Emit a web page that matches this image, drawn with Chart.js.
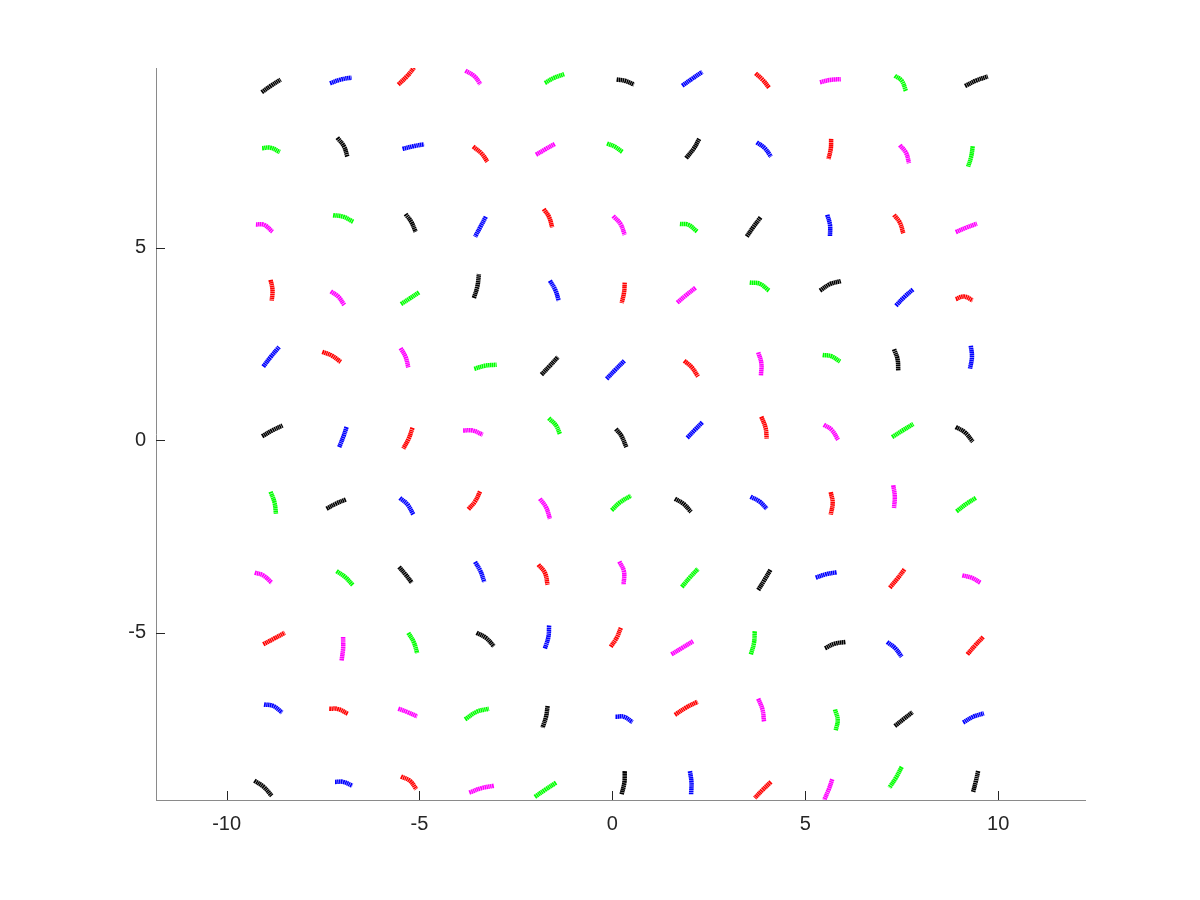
<!DOCTYPE html>
<html><head><meta charset="utf-8">
<script src="https://cdn.jsdelivr.net/npm/chart.js@4.4.0/dist/chart.umd.min.js"></script>
<style>html,body{margin:0;padding:0;background:#fff;}#wrap{width:1200px;height:900px;}</style>
</head><body><div id="wrap"><canvas id="c" width="1200" height="900"></canvas></div>
<script>
// Axis ticks and limits
const xTicks = [-10, -5, 0, 5, 10];
const yTicks = [-5, 0, 5];
const xLimits = [-11.83, 12.25];
const yLimits = [-9.34, 9.66];

// Arc samples, rows from top to bottom, 11 arcs per row (start / middle / end points)
const startX = [
 -9.09,-7.32,-5.55,-3.81,-1.75,0.11,1.81,3.71,5.38,7.32,9.14,
 -9.08,-7.13,-5.44,-3.61,-1.98,-0.14,1.91,3.74,5.67,7.45,9.34,
 -9.24,-7.24,-5.36,-3.28,-1.78,0.02,1.75,3.84,5.57,7.30,8.90,
 -8.86,-7.30,-5.48,-3.59,-1.62,0.32,1.68,3.56,5.38,7.35,8.90,
 -9.05,-7.52,-5.49,-3.58,-1.84,-0.15,1.86,3.78,5.45,7.30,9.29,
 -9.08,-6.89,-5.18,-3.87,-1.65,0.09,1.94,3.86,5.48,7.25,8.90,
 -8.86,-7.41,-5.51,-3.43,-1.88,-0.02,1.62,3.58,5.66,7.28,8.92,
 -9.27,-7.15,-5.53,-3.56,-1.92,0.18,1.80,3.78,5.27,7.19,9.07,
 -9.05,-6.98,-5.29,-3.52,-1.64,0.22,1.53,3.69,5.51,7.12,9.20,
 -9.03,-7.34,-5.55,-3.82,-1.68,0.08,1.62,3.78,5.77,7.32,9.09,
 -9.28,-7.19,-5.48,-3.71,-2.01,0.32,2.01,4.11,5.70,7.50,9.48];
const startY = [
 9.03,9.26,9.23,9.59,9.27,9.36,9.20,9.52,9.29,9.46,9.19,
 7.58,7.85,7.56,7.62,7.41,7.70,7.32,7.73,7.82,7.66,7.63,
 5.60,5.84,5.87,5.80,6.00,5.82,5.61,5.78,5.85,5.85,5.40,
 4.16,3.86,3.53,3.69,4.14,4.09,3.57,4.09,3.88,3.49,3.66,
 1.91,2.29,2.39,1.85,1.70,1.59,2.06,2.28,2.21,2.36,2.45,
 0.10,0.34,0.32,0.25,0.57,0.29,0.06,0.61,0.40,0.08,0.34,
 -1.34,-1.78,-1.50,-1.33,-1.52,-1.82,-1.52,-1.47,-1.35,-1.17,-1.85,
 -3.44,-3.40,-3.29,-3.16,-3.23,-3.15,-3.81,-3.89,-3.57,-3.83,-3.51,
 -5.30,-5.11,-5.00,-5.00,-4.81,-4.87,-5.56,-4.96,-5.40,-5.24,-5.56,
 -6.86,-6.97,-6.97,-7.25,-6.90,-7.18,-7.13,-6.71,-6.99,-7.42,-7.33,
 -8.84,-8.87,-8.73,-9.15,-9.26,-8.59,-8.59,-8.87,-8.80,-8.48,-8.59];
const midX = [
 -8.85,-7.05,-5.32,-3.58,-1.52,0.32,2.05,3.89,5.64,7.50,9.42,
 -8.86,-6.96,-5.16,-3.39,-1.74,0.06,2.11,3.94,5.66,7.61,9.30,
 -9.03,-6.98,-5.21,-3.42,-1.64,0.21,1.97,3.65,5.64,7.45,9.18,
 -8.81,-7.11,-5.25,-3.50,-1.48,0.30,1.92,3.82,5.64,7.56,9.11,
 -8.85,-7.28,-5.36,-3.31,-1.64,0.08,2.05,3.86,5.67,7.39,9.32,
 -8.82,-6.97,-5.28,-3.62,-1.46,0.23,2.14,3.97,5.68,7.52,9.14,
 -8.76,-7.17,-5.31,-3.56,-1.72,0.19,1.84,3.81,5.71,7.32,9.18,
 -9.05,-6.93,-5.36,-3.42,-1.75,0.30,2.01,3.94,5.53,7.39,9.31,
 -8.77,-6.98,-5.15,-3.28,-1.66,0.11,1.81,3.67,5.77,7.32,9.40,
 -8.79,-7.11,-5.31,-3.52,-1.72,0.30,1.91,3.89,5.84,7.56,9.35,
 -9.05,-6.98,-5.25,-3.39,-1.75,0.31,2.05,3.89,5.61,7.35,9.42];
const midY = [
 9.20,9.36,9.45,9.45,9.40,9.33,9.37,9.36,9.35,9.33,9.33,
 7.59,7.63,7.63,7.44,7.55,7.62,7.57,7.59,7.56,7.46,7.36,
 5.59,5.80,5.66,5.54,5.79,5.61,5.59,5.53,5.59,5.65,5.52,
 3.90,3.73,3.68,3.99,3.90,3.82,3.77,4.06,4.05,3.71,3.73,
 2.17,2.20,2.16,1.93,1.91,1.83,1.90,2.00,2.18,2.11,2.16,
 0.25,0.10,0.04,0.25,0.38,0.12,0.27,0.32,0.27,0.25,0.20,
 -1.61,-1.65,-1.67,-1.59,-1.74,-1.62,-1.65,-1.59,-1.63,-1.46,-1.65,
 -3.51,-3.55,-3.49,-3.40,-3.44,-3.41,-3.56,-3.63,-3.48,-3.59,-3.57,
 -5.15,-5.41,-5.24,-5.13,-5.11,-5.13,-5.39,-5.26,-5.28,-5.39,-5.33,
 -6.90,-6.98,-7.06,-7.05,-7.18,-7.18,-6.94,-6.99,-7.26,-7.23,-7.18,
 -8.99,-8.87,-8.84,-9.03,-9.08,-8.89,-8.89,-9.08,-9.06,-8.76,-8.86];
const endX = [
 -8.60,-6.76,-5.14,-3.42,-1.25,0.56,2.33,4.06,5.92,7.61,9.73,
 -8.62,-6.87,-4.88,-3.24,-1.49,0.26,2.25,4.11,5.60,7.69,9.22,
 -8.81,-6.72,-5.10,-3.56,-1.56,0.32,2.20,3.48,5.64,7.54,9.45,
 -8.83,-6.95,-5.01,-3.46,-1.39,0.24,2.16,4.06,5.92,7.80,9.34,
 -8.64,-7.04,-5.29,-3.00,-1.41,0.31,2.22,3.85,5.90,7.41,9.27,
 -8.55,-7.08,-5.42,-3.36,-1.36,0.36,2.34,4.00,5.85,7.80,9.34,
 -8.72,-6.91,-5.16,-3.74,-1.62,0.48,2.04,4.00,5.66,7.30,9.42,
 -8.83,-6.73,-5.20,-3.32,-1.68,0.29,2.22,4.10,5.81,7.58,9.54,
 -8.49,-7.02,-5.06,-3.07,-1.75,-0.05,2.09,3.59,6.05,7.50,9.61,
 -8.56,-6.86,-5.06,-3.20,-1.81,0.52,2.21,3.93,5.79,7.78,9.63,
 -8.83,-6.74,-5.08,-3.07,-1.46,0.24,2.04,3.69,5.49,7.18,9.35];
const endY = [
 9.36,9.41,9.67,9.24,9.50,9.23,9.56,9.15,9.37,9.06,9.44,
 7.48,7.36,7.68,7.23,7.69,7.48,7.82,7.36,7.30,7.19,7.10,
 5.41,5.67,5.41,5.28,5.52,5.33,5.41,5.28,5.30,5.37,5.62,
 3.62,3.51,3.84,4.31,3.62,3.56,3.96,3.88,4.13,3.92,3.63,
 2.42,2.03,1.89,1.96,2.16,2.06,1.65,1.67,2.04,1.80,1.86,
 0.38,-0.18,-0.22,0.14,0.16,-0.18,0.47,0.04,0.01,0.42,-0.04,
 -1.91,-1.54,-1.93,-1.80,-2.04,-1.44,-1.86,-1.78,-1.93,-1.76,-1.50,
 -3.70,-3.76,-3.70,-3.68,-3.75,-3.75,-3.34,-3.36,-3.43,-3.34,-3.70,
 -5.00,-5.72,-5.53,-5.35,-5.41,-5.37,-5.22,-5.56,-5.24,-5.62,-5.11,
 -7.07,-7.10,-7.17,-6.97,-7.46,-7.32,-6.79,-7.30,-7.53,-7.06,-7.09,
 -9.23,-8.97,-9.06,-8.97,-8.89,-9.19,-9.19,-9.29,-9.34,-9.02,-9.13];

// Line colour cycle: black, blue, red, magenta, green
const colorCycle = ['#000000', '#0000ff', '#ff0000', '#ff00ff', '#00ff00'];
const nCols = 11;

const datasets = startX.map((sx, i) => {
  const r = Math.floor(i / nCols), c = i % nCols;
  const color = colorCycle[(((c - r) % 5) + 5) % 5];
  return {
    data: [{x: sx, y: startY[i]}, {x: midX[i], y: midY[i]}, {x: endX[i], y: endY[i]}],
    borderColor: color,
    borderWidth: 4.5,
    borderDash: [1.6, 0.4],
    borderCapStyle: 'butt',
    tension: 0.4,
    pointRadius: 0,
    fill: false
  };
});

const inwardTicks = {
  id: 'inwardTicks',
  afterDatasetsDraw(chart) {
    const ctx = chart.ctx, xs = chart.scales.x, ys = chart.scales.y, a = chart.chartArea;
    ctx.save();
    ctx.strokeStyle = '#262626';
    ctx.lineWidth = 1;
    ctx.beginPath();
    xTicks.forEach(v => { const p = Math.round(xs.getPixelForValue(v)) + 0.5; ctx.moveTo(p, a.bottom); ctx.lineTo(p, a.bottom - 9); });
    yTicks.forEach(v => { const p = Math.round(ys.getPixelForValue(v)) + 0.5; ctx.moveTo(a.left, p); ctx.lineTo(a.left + 9, p); });
    ctx.stroke();
    ctx.restore();
  }
};

const tickFont = {family: '"Liberation Sans", Arial, sans-serif', size: 20};

new Chart(document.getElementById('c'), {
  type: 'line',
  data: {datasets},
  plugins: [inwardTicks],
  options: {
    responsive: false,
    devicePixelRatio: 1,
    animation: false,
    events: [],
    layout: {padding: {top: 68, right: 115, left: 0, bottom: 0}},
    plugins: {legend: {display: false}, tooltip: {enabled: false}},
    scales: {
      x: {
        type: 'linear', min: xLimits[0], max: xLimits[1],
        afterBuildTicks: s => { s.ticks = xTicks.map(v => ({value: v})); },
        afterFit: s => { s.height = 100; },
        grid: {display: true, drawOnChartArea: false, drawTicks: false},
        border: {display: true, color: '#8a8a8a', width: 1},
        ticks: {color: '#262626', font: tickFont, padding: 12, maxRotation: 0, callback: v => String(v)}
      },
      y: {
        type: 'linear', min: yLimits[0], max: yLimits[1],
        afterBuildTicks: s => { s.ticks = yTicks.map(v => ({value: v})); },
        afterFit: s => { s.width = 156; },
        grid: {display: true, drawOnChartArea: false, drawTicks: false},
        border: {display: true, color: '#8a8a8a', width: 1},
        ticks: {color: '#262626', font: tickFont, padding: 10, callback: v => String(v)}
      }
    }
  }
});
</script>
</body></html>
